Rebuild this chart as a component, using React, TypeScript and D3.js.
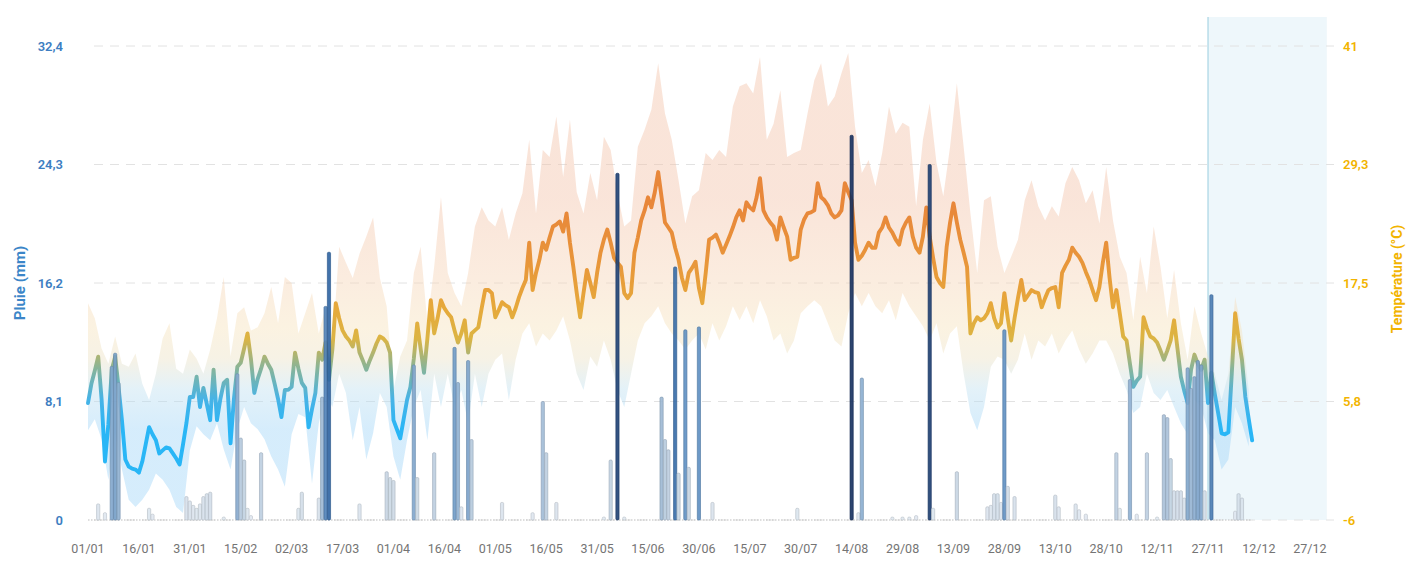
import { useEffect } from "react";
import * as d3 from "d3";

const WIDTH = 1406;
const HEIGHT = 564;

const xTickLabels = [
  "01/01", "16/01", "31/01", "15/02", "02/03", "17/03", "01/04", "16/04", "01/05",
  "16/05", "31/05", "15/06", "30/06", "15/07", "30/07", "14/08", "29/08", "13/09",
  "28/09", "13/10", "28/10", "12/11", "27/11", "12/12", "27/12",
];
const rainTicks = [0, 8.1, 16.2, 24.3, 32.4];
const tempTicks = [-6, 5.8, 17.5, 29.3, 41];
const todayLabel = "27/11";

// daily mean temperature (°C), one value per day from 01/01
const tempMean = [
  5.6, 7.5, 8.8, 10.2, 6.0, -0.2, 3.5, 8.9, 10.2, 7.2,
  3.9, 0.0, -0.7, -0.9, -1.0, -1.3, -0.2, 1.5, 3.2, 2.5,
  1.9, 0.6, 0.9, 1.2, 1.1, 0.6, 0.1, -0.5, 1.5, 3.6,
  6.2, 6.2, 8.2, 5.2, 7.1, 5.5, 3.9, 8.9, 3.9, 6.0,
  7.6, 7.9, 1.6, 6.0, 9.2, 9.6, 11.0, 12.5, 10.0, 6.6,
  8.0, 9.0, 10.2, 9.5, 8.9, 7.5, 6.0, 4.2, 6.9, 6.9,
  7.2, 10.6, 9.0, 7.6, 7.1, 3.2, 5.0, 6.6, 10.6, 9.9,
  11.6, 7.9, 10.9, 15.5, 14.0, 12.8, 12.2, 11.8, 11.2, 12.8,
  10.6, 9.8, 8.9, 9.8, 10.6, 11.5, 12.2, 12.0, 11.6, 10.6,
  3.9, 3.0, 2.1, 4.0, 5.9, 7.2, 10.0, 13.5, 11.0, 8.6,
  12.0, 15.8, 12.5, 14.0, 15.8, 15.0, 14.5, 14.1, 12.8, 11.6,
  12.5, 13.8, 10.6, 12.5, 12.8, 13.1, 15.0, 16.8, 16.8, 16.5,
  14.1, 14.8, 15.6, 15.3, 15.1, 14.1, 15.0, 16.1, 17.0, 17.8,
  21.5, 16.8, 18.5, 19.8, 21.5, 20.8, 22.0, 23.1, 23.3, 23.6,
  22.6, 24.4, 21.5, 19.1, 16.5, 14.1, 16.5, 18.8, 17.5, 16.1,
  18.5, 20.5, 21.8, 22.8, 21.5, 20.0, 19.5, 19.1, 16.5, 16.0,
  16.5, 20.5, 22.0, 23.7, 24.7, 26.0, 25.0, 26.5, 28.5, 26.0,
  23.5, 23.0, 22.5, 21.0, 19.8, 18.0, 16.8, 18.5, 19.0, 19.6,
  17.0, 15.5, 18.5, 21.8, 22.0, 22.3, 21.5, 20.5, 21.3, 22.1,
  23.0, 24.0, 24.7, 23.7, 25.5, 25.0, 24.7, 26.0, 27.9, 24.7,
  24.0, 23.5, 23.1, 21.8, 24.0, 23.0, 22.1, 19.8, 20.0, 20.1,
  22.8, 23.8, 24.4, 24.5, 24.7, 27.4, 26.0, 25.7, 25.2, 24.4,
  24.0, 24.2, 24.7, 27.4, 26.5, 25.7, 21.5, 19.8, 20.2, 20.8,
  21.5, 21.0, 21.0, 22.5, 23.0, 24.0, 23.0, 22.5, 21.8, 21.3,
  22.8, 23.5, 24.0, 22.1, 21.0, 20.5, 22.1, 25.0, 22.1, 20.0,
  18.1, 17.5, 17.1, 21.1, 23.5, 25.4, 23.5, 21.8, 20.5, 19.1,
  12.5, 13.5, 14.1, 13.8, 14.0, 14.5, 15.5, 14.0, 13.1, 13.5,
  16.5, 14.0, 11.8, 14.0, 16.0, 17.8, 15.8, 16.3, 16.8, 16.6,
  16.5, 15.1, 16.0, 16.8, 17.0, 17.1, 15.1, 18.5, 19.2, 19.8,
  21.0, 20.5, 20.1, 19.5, 18.6, 17.8, 16.8, 15.8, 17.1, 19.5,
  21.5, 18.0, 15.1, 16.8, 14.5, 12.2, 11.8, 9.5, 7.2, 7.8,
  8.2, 14.1, 13.0, 12.2, 12.0, 11.6, 10.8, 9.9, 10.8, 11.8,
  13.8, 11.0, 8.2, 6.8, 5.6, 8.9, 10.4, 9.5, 8.9, 9.9,
  5.6, 8.6, 6.5, 4.6, 2.6, 2.5, 2.7, 8.5, 14.5, 12.0,
  9.9, 6.2, 4.0, 1.9,
];

// daily max / min envelope (°C), one value every 2 days from 01/01
const tempMax = [
  15.5, 14.0, 11.0, 9.5, 12.2, 9.5, 9.2, 10.5, 7.5, 5.9,
  8.5, 12.0, 13.5, 9.0, 8.5, 10.9, 10.0, 8.5, 10.9, 14.0,
  18.1, 10.2, 14.5, 15.1, 12.8, 13.1, 14.5, 17.1, 13.5, 18.1,
  17.5, 12.5, 14.5, 16.5, 12.5, 15.1, 11.0, 21.1, 19.5, 18.0,
  20.4, 22.1, 24.0, 18.0, 15.2, 6.9, 10.2, 11.8, 18.5, 21.1,
  13.5, 19.1, 26.0, 18.5, 16.5, 15.2, 18.5, 23.1, 25.0, 23.7,
  23.1, 25.0, 21.8, 24.4, 26.4, 31.7, 24.4, 30.7, 30.0, 34.0,
  28.0, 33.7, 26.5, 24.4, 28.4, 25.7, 32.0, 30.7, 26.4, 23.1,
  23.7, 31.0, 32.7, 34.7, 39.3, 34.3, 31.7, 27.7, 23.4, 26.1,
  26.7, 30.4, 29.7, 30.7, 30.0, 35.0, 37.0, 37.3, 36.3, 39.9,
  31.7, 33.3, 36.6, 30.0, 30.4, 30.7, 34.3, 37.6, 39.3, 35.0,
  36.0, 38.3, 40.3, 33.0, 28.4, 29.7, 27.1, 30.4, 35.0, 32.3,
  33.4, 33.0, 25.1, 31.7, 35.3, 29.4, 26.1, 31.0, 37.3, 31.0,
  24.4, 18.5, 25.7, 26.1, 21.1, 18.5, 20.1, 21.8, 25.7, 27.7,
  25.1, 23.7, 25.1, 24.1, 27.4, 29.0, 27.7, 25.4, 26.7, 23.4,
  29.0, 23.7, 20.1, 18.5, 13.8, 20.1, 16.5, 23.1, 19.1, 14.0,
  18.8, 13.5, 9.9, 15.2, 12.5, 10.2, 8.5, 5.9, 8.5, 16.1,
  12.8, 6.9,
];
const tempMin = [
  2.9, 4.0, 2.0, -2.0, 2.6, -1.0, -4.0, -4.7, -4.0, -3.0,
  -1.4, -2.0, -3.0, -4.7, -5.3, 0.9, 3.3, 2.5, 1.9, 3.6,
  1.0, -1.0, 3.0, 5.2, 3.6, 3.0, 2.0, 0.3, -1.0, -2.7,
  2.5, 4.5, 4.2, -2.4, 3.6, 6.6, 5.2, 8.5, 6.6, 1.9,
  5.2, 0.0, 2.6, 6.6, 5.2, 0.3, -2.0, 1.9, 5.2, 6.9,
  1.9, 8.5, 5.2, 8.5, 5.2, 6.9, 3.6, 8.5, 5.2, 8.5,
  9.9, 10.5, 5.9, 9.9, 12.5, 13.5, 11.2, 12.5, 11.8, 12.8,
  14.2, 11.8, 8.5, 6.9, 10.2, 9.2, 11.8, 9.9, 6.9, 5.2,
  8.5, 11.8, 13.5, 14.2, 15.2, 13.5, 12.5, 11.8, 10.9, 11.8,
  12.5, 10.9, 13.5, 11.8, 13.2, 15.2, 13.8, 15.2, 13.5, 15.8,
  14.2, 11.8, 12.5, 10.5, 11.8, 14.5, 15.2, 15.8, 15.2, 13.5,
  11.8, 11.2, 14.5, 16.5, 15.2, 16.5, 15.2, 14.5, 15.8, 13.8,
  16.5, 15.2, 14.2, 13.2, 11.8, 13.5, 10.5, 12.5, 13.2, 8.5,
  4.6, 2.9, 5.2, 9.2, 10.2, 9.9, 8.5, 9.9, 12.5, 9.9,
  11.8, 11.2, 12.5, 10.5, 11.8, 12.8, 10.9, 9.5, 10.5, 11.8,
  11.8, 10.5, 8.5, 6.9, 4.6, 5.2, 8.5, 6.6, 5.9, 6.9,
  5.2, 3.6, 2.5, 5.9, 5.2, 2.6, 1.9, -1.0, 0.0, 5.2,
  3.6, 1.3,
];

// daily rain: day index from 01/01 and amount (mm)
const rainDays = [
  3, 5, 7, 8, 9, 18, 19, 29, 30, 31, 32, 33, 34, 35, 36, 40, 44, 45, 46, 47, 48, 51,
  62, 63, 68, 69, 70, 71, 80, 88, 89, 90, 96, 97, 102, 108, 109, 110, 112, 113,
  122, 131, 134, 135, 138, 152, 154, 156, 158, 169, 170, 171, 173, 174, 176, 177, 180,
  184, 209, 225, 227, 228, 237, 240, 242, 244, 248, 249, 256, 265, 266, 267, 268, 269,
  270, 271, 273, 285, 286, 291, 292, 294, 303, 304, 307, 309, 312, 315, 317, 318, 319,
  320, 321, 322, 323, 324, 325, 326, 327, 328, 329, 331, 338, 339, 340,
];
const rainMm = [
  1.1, 0.5, 10.5, 11.4, 9.4, 0.8, 0.4, 1.6, 1.3, 1.0, 0.8, 1.1, 1.6, 1.8, 1.9, 0.2, 10.0, 5.6, 4.1, 0.8, 0.3, 4.6,
  0.8, 1.9, 1.5, 8.4, 14.6, 18.3, 1.1, 3.3, 2.9, 2.7, 10.6, 2.9, 4.6, 11.8, 9.4, 0.9, 10.9, 5.5,
  1.2, 0.5, 8.1, 4.6, 1.2, 0.2, 4.1, 23.7, 0.2, 8.4, 5.5, 4.8, 17.3, 3.2, 13.0, 3.6, 13.2,
  1.2, 0.8, 26.3, 0.5, 9.7, 0.2, 0.2, 0.2, 0.3, 24.3, 0.8, 3.3, 0.9, 1.0, 1.8, 1.8, 1.2,
  13.0, 2.3, 1.6, 1.7, 0.9, 1.1, 0.7, 0.4, 4.6, 0.8, 9.6, 0.4, 4.6, 0.2, 7.2, 7.0, 4.2,
  2.0, 2.0, 2.0, 1.5, 10.4, 9.0, 9.8, 10.9, 10.6, 2.0, 15.4, 0.6, 1.8, 1.5,
];

const FONT = "Roboto, 'Noto Sans', sans-serif";

export default function App() {
  useEffect(() => {
    document.body.style.margin = "0";
  }, []);

  const start = new Date(2023, 0, 1);
  const dayDate = (i: number) => d3.timeDay.offset(start, i);
  const parseDay = d3.timeParse("%d/%m/%Y");
  const labelDate = (s: string) => parseDay(`${s}/2023`) as Date;

  const x = d3.scaleTime().domain([start, new Date(2024, 0, 1)]).range([88, 1326.8]);
  const yRain = d3.scaleLinear().domain([0, 32.4]).range([520, 46]);
  const yTemp = d3.scaleLinear().domain([-6, 41]).range([520, 46]);

  const fr = d3.formatLocale({ decimal: ",", thousands: " ", grouping: [3], currency: ["", " €"], minus: "-" });
  const fmt = fr.format(".3~g");

  const tempLine = d3.line<number>()
    .x((_, i) => x(dayDate(i)))
    .y(d => yTemp(d));

  const band = tempMax.map((hi, k) => ({ day: k * 2, hi, lo: tempMin[k] }));
  const bandArea = d3.area<{ day: number; hi: number; lo: number }>()
    .x(d => x(dayDate(d.day)))
    .y0(d => yTemp(d.lo))
    .y1(d => yTemp(d.hi));

  const rainColor = d3.scaleLinear<string>()
    .domain([0, 3, 8, 13, 18, 24])
    .range(["#e3eaf2", "#cad7e4", "#a2bcd6", "#5f90c2", "#2f65a3", "#1d3f72"]);

  const off = (t: number) => `${((t + 6) / 47) * 100}%`;
  const lineStops: [number, string][] = [
    [3, "#29b6f6"], [6, "#47b3e6"], [9, "#86b49a"], [12, "#dcb443"],
    [15, "#e6a93b"], [20, "#e8943a"], [25, "#e8873a"],
  ];
  const bandStops: [number, string][] = [
    [3, "#a3d6f8"], [7, "#c2e1f0"], [10, "#ece2c6"], [13, "#f6e3bd"],
    [18, "#f6d5b8"], [26, "#f3c4ab"],
  ];

  const today = labelDate(todayLabel);
  const xEnd = x(new Date(2024, 0, 1));
  const lastDay = dayDate(tempMean.length - 1);
  const barW = 3.2;

  return (
    <svg width={WIDTH} height={HEIGHT} style={{ display: "block", fontFamily: FONT }}>
      <defs>
        <linearGradient id="tLine" gradientUnits="userSpaceOnUse" x1={0} x2={0} y1={yTemp(-6)} y2={yTemp(41)}>
          {lineStops.map(([t, c]) => <stop key={t} offset={off(t)} stopColor={c} />)}
        </linearGradient>
        <linearGradient id="tBand" gradientUnits="userSpaceOnUse" x1={0} x2={0} y1={yTemp(-6)} y2={yTemp(41)}>
          {bandStops.map(([t, c]) => <stop key={t} offset={off(t)} stopColor={c} />)}
        </linearGradient>
      </defs>

      {/* forecast zone */}
      <rect x={x(today)} y={17} width={xEnd - x(today)} height={yRain(0) - 17} fill="#eef7fb" />
      <line x1={x(today)} x2={x(today)} y1={17} y2={yRain(0)} stroke="#a9d4e4" strokeWidth={1.2} />

      {/* grid */}
      {rainTicks.map(t => (
        <line key={t} x1={94} x2={1334} y1={yRain(t)} y2={yRain(t)}
          stroke="#e2e2e2" strokeWidth={1} strokeDasharray="9 7" />
      ))}
      <line x1={x(start)} x2={x(lastDay)} y1={yRain(0)} y2={yRain(0)}
        stroke="#bdbdbd" strokeWidth={1.2} strokeDasharray="1.5 1.5" />

      {/* temperature envelope and mean */}
      <path d={bandArea(band) ?? ""} fill="url(#tBand)" fillOpacity={0.45} />
      <path d={tempLine(tempMean) ?? ""} fill="none" stroke="url(#tLine)" strokeWidth={3.9}
        strokeLinejoin="round" strokeLinecap="round" />

      {/* rain bars */}
      {rainDays.map((d, i) => {
        const v = rainMm[i];
        const c = rainColor(v);
        const cx = x(dayDate(d));
        return (
          <rect key={d} x={cx - barW / 2} y={yRain(v)} width={barW} height={yRain(0) - yRain(v)}
            rx={1.2} fill={c} fillOpacity={0.9}
            stroke={d3.color(c)!.darker(0.5).formatHex()} strokeWidth={0.8} strokeOpacity={0.8} />
        );
      })}

      {/* left axis */}
      {rainTicks.map(t => (
        <text key={t} x={63} y={yRain(t)} dy="0.35em" textAnchor="end"
          fontSize={13} fontWeight={600} fill="#3d7ec2">{fmt(t)}</text>
      ))}
      <text transform={`translate(20,${yRain(16.2)}) rotate(-90)`} textAnchor="middle" dy="0.35em"
        fontSize={15} fontWeight={700} fill="#3b86c8">Pluie (mm)</text>

      {/* right axis */}
      {tempTicks.map(t => (
        <text key={t} x={1343} y={yTemp(t)} dy="0.35em" textAnchor="start"
          fontSize={13} fontWeight={600} fill="#f2b400">{fmt(t)}</text>
      ))}
      <text transform={`translate(1397,${yTemp(17.5) - 4}) rotate(-90)`} textAnchor="middle" dy="0.35em"
        fontSize={14} fontWeight={700} fill="#f2b400">Température (°C)</text>

      {/* x axis labels */}
      {xTickLabels.map(s => (
        <text key={s} x={x(labelDate(s))} y={553} textAnchor="middle"
          fontSize={12.5} fill="#747474">{s}</text>
      ))}
    </svg>
  );
}
